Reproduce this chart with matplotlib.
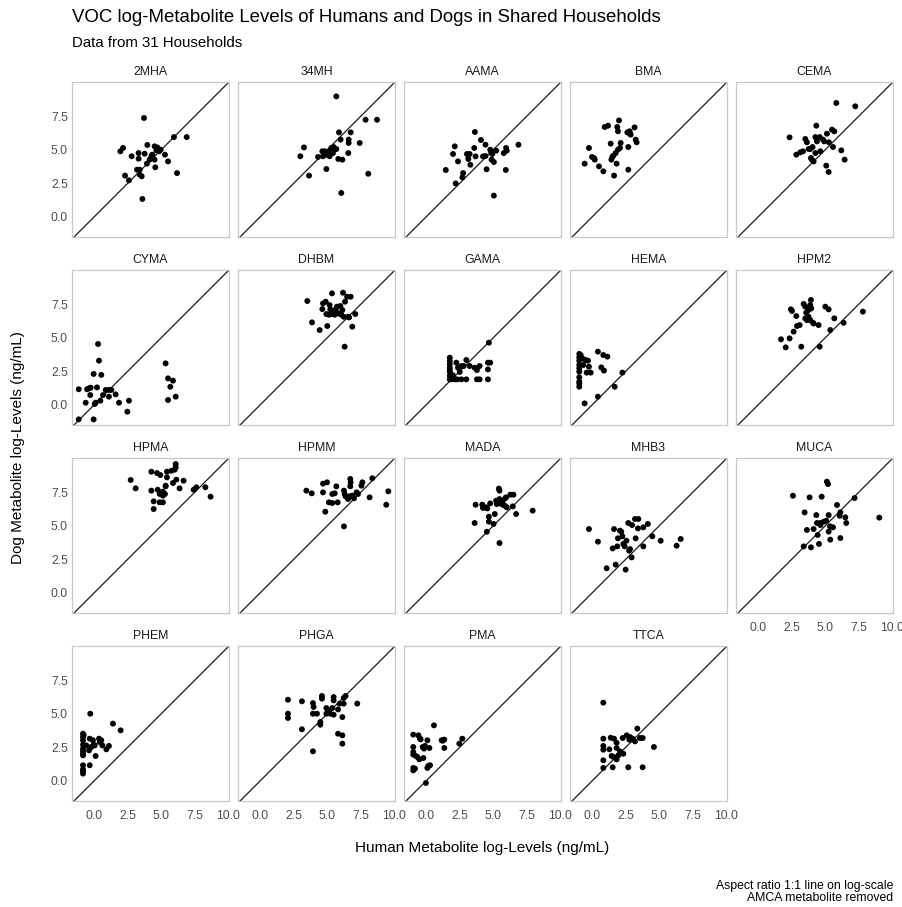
import matplotlib
matplotlib.use("Agg")
import matplotlib.pyplot as plt

plt.rcParams['font.family'] = ['Liberation Sans', 'DejaVu Sans']

# ---------------- data (log ng/mL): human (x) and dog (y) ----------------
h_2MHA = [3.72, 1.96, 2.16, 2.80, 3.32, 3.32, 3.97, 3.77, 4.27, 4.51, 4.71, 4.84, 4.64, 4.96, 4.51, 3.94,
          4.56, 5.28, 5.51, 5.95, 6.90, 6.18, 3.20, 3.40, 2.31, 2.60, 3.40, 3.55, 3.60, 4.34, 4.14]
d_2MHA = [7.37, 4.89, 5.14, 4.52, 4.76, 4.34, 5.36, 4.71, 4.52, 5.26, 5.18, 4.89, 4.96, 5.01, 4.27, 3.97,
          3.70, 4.64, 4.14, 5.95, 5.95, 3.27, 3.52, 3.52, 3.08, 2.73, 3.15, 3.03, 1.34, 4.64, 4.27]

h_34MH = [5.68, 3.27, 3.00, 3.65, 4.32, 4.64, 4.81, 5.13, 5.31, 5.48, 5.56, 5.68, 4.94, 5.18, 5.43, 4.94,
          5.88, 6.00, 6.75, 6.60, 6.60, 6.57, 5.83, 6.13, 7.42, 7.86, 8.71, 8.06, 6.05, 4.69, 5.18]
d_34MH = [8.98, 5.18, 4.52, 3.08, 4.47, 4.89, 4.89, 4.89, 5.14, 5.21, 5.01, 5.06, 4.64, 4.64, 4.76, 3.57,
          6.30, 5.76, 6.30, 5.76, 5.51, 4.76, 4.32, 4.27, 5.51, 7.24, 7.24, 3.22, 1.79, 4.52, 4.52]

h_AAMA = [3.64, 4.09, 4.43, 2.14, 2.01, 2.38, 1.47, 2.76, 2.71, 2.21, 3.05, 3.25, 3.15, 3.30, 3.59, 3.69,
          4.24, 4.43, 4.78, 4.85, 4.93, 5.22, 4.88, 5.05, 4.51, 5.05, 5.96, 6.01, 5.79, 5.94, 6.88]
d_AAMA = [6.33, 5.73, 5.38, 5.26, 4.69, 4.14, 3.50, 3.27, 2.95, 2.50, 4.69, 4.69, 4.32, 3.89, 5.14, 4.51,
          4.51, 4.54, 5.01, 4.84, 4.69, 4.94, 4.27, 4.09, 3.55, 1.59, 5.14, 4.94, 4.76, 3.50, 5.38]

h_BMA = [2.01, 0.94, 1.19, 1.88, 1.93, 2.63, 2.80, 2.88, 3.17, 3.25, 3.32, 2.70, 2.13, 1.39, -0.23, -0.55,
         0.00, 0.20, 0.52, 0.84, 1.64, 1.83, 2.70, 1.44, 1.59, 1.76, 1.93, 2.08, 1.51, 2.83, 0.15]
d_BMA = [7.19, 6.70, 6.80, 6.70, 6.38, 6.30, 6.38, 6.13, 6.67, 5.76, 5.56, 5.21, 5.51, 5.46, 5.14, 3.97,
         4.47, 4.27, 3.77, 3.40, 3.08, 3.97, 3.52, 4.27, 4.57, 4.76, 5.01, 5.14, 4.47, 6.20, 4.39]

h_CEMA = [5.83, 7.24, 2.35, 4.34, 3.52, 3.64, 4.27, 4.84, 4.93, 5.13, 5.51, 5.68, 5.28, 5.58, 2.85, 3.15,
          3.35, 3.77, 4.06, 3.89, 4.27, 4.64, 4.39, 3.94, 4.14, 4.01, 5.08, 5.26, 6.20, 6.45, 4.59]
d_CEMA = [8.49, 8.24, 5.93, 6.80, 5.81, 5.56, 5.95, 5.76, 5.63, 6.20, 6.50, 6.38, 5.56, 5.21, 4.64, 4.81,
          4.89, 5.06, 5.21, 5.06, 4.76, 4.89, 5.63, 4.39, 4.14, 4.27, 3.82, 3.35, 4.96, 4.27, 5.95]

h_CYMA = [0.30, 0.37, -0.03, 0.54, -1.14, -0.52, -0.37, -0.25, 0.22, 0.87, 1.11, 1.29, -0.28, 0.67, 1.11, 1.61,
          -0.62, 0.05, 0.47, 1.86, 2.60, 2.48, -1.14, -0.03, 5.33, 5.51, 5.88, 5.68, 5.51, 6.08, 0.12]
d_CYMA = [4.54, 3.30, 2.31, 2.24, 1.17, 1.17, 1.24, 1.29, 1.31, 1.12, 1.12, 1.12, 0.74, 0.74, 0.62, 0.79,
          0.17, 0.07, 0.32, 0.17, 0.32, -0.50, -1.07, -1.07, 3.10, 1.98, 1.81, 1.36, 0.37, 0.62, 0.17]

h_DHBM = [3.52, 5.36, 6.18, 6.48, 6.75, 4.89, 6.33, 5.18, 4.64, 5.23, 5.63, 5.98, 6.13, 4.94, 5.31, 5.56,
          5.81, 6.05, 6.23, 6.55, 7.09, 3.87, 4.44, 5.01, 6.87, 6.30, 5.43, 5.13, 5.73, 6.63, 4.69]
d_DHBM = [7.74, 8.31, 8.36, 8.06, 8.06, 7.69, 7.69, 7.44, 7.14, 7.12, 7.12, 7.37, 7.07, 6.77, 6.77, 6.72,
          6.82, 6.72, 6.57, 6.57, 6.77, 6.15, 5.58, 5.88, 5.83, 4.34, 6.90, 6.72, 7.32, 6.52, 7.56]

h_GAMA = [1.77, 1.77, 1.77, 1.77, 1.77, 1.77, 1.77, 2.01, 2.26, 2.38, 2.51, 2.31, 2.63, 3.00, 3.00, 2.80,
          3.25, 3.62, 3.79, 3.99, 3.79, 3.99, 4.61, 4.78, 4.61, 4.61, 4.68, 1.89, 2.14, 2.63, 1.77]
d_GAMA = [3.52, 3.27, 3.03, 2.78, 2.46, 2.16, 1.91, 2.21, 3.15, 2.78, 2.46, 1.91, 1.91, 1.91, 3.35, 2.90,
          2.90, 2.78, 2.60, 2.90, 1.91, 1.91, 3.15, 3.15, 2.65, 1.91, 4.64, 1.91, 1.91, 2.90, 2.60]

h_HEMA = [-0.95, -0.95, -0.95, -0.95, -0.95, -0.95, -0.95, -0.72, -0.48, -0.30, -0.23, -0.40, -0.10, 0.44,
          0.84, 1.14, 0.69, 0.89, 2.26, 1.69, 0.44, -0.55, -0.95, -0.95, -0.65, -0.95, -0.85]
d_HEMA = [3.80, 3.55, 3.30, 2.98, 2.06, 1.74, 1.36, 3.48, 3.35, 3.30, 2.85, 2.41, 2.41, 3.97,
          3.72, 3.60, 2.80, 2.56, 2.41, 1.36, 0.62, 0.12, 2.48, 2.73, 2.98, 1.61, 3.72]

h_HPM2 = [3.94, 3.40, 3.52, 2.45, 2.53, 2.85, 3.89, 3.96, 3.59, 3.76, 3.64, 3.89, 4.09, 4.51, 5.01, 5.26,
          5.68, 3.10, 2.90, 2.65, 2.35, 1.71, 2.06, 3.22, 4.59, 5.38, 6.37, 7.81, 3.52, 3.76, 4.14]
d_HPM2 = [7.82, 7.52, 7.32, 7.12, 7.00, 6.62, 7.44, 7.19, 6.87, 6.57, 6.32, 6.32, 6.12, 5.95, 7.32, 7.12,
          6.45, 5.95, 5.88, 5.46, 4.96, 4.89, 4.29, 4.34, 4.34, 5.58, 6.12, 6.95, 6.45, 7.07, 6.07]

h_HPMA = [2.73, 3.10, 6.08, 6.08, 6.00, 4.27, 4.69, 4.94, 5.43, 5.76, 5.43, 6.13, 6.67, 5.88, 5.33, 6.37,
          4.27, 4.74, 5.13, 4.89, 5.28, 5.13, 4.44, 4.89, 5.13, 4.44, 7.42, 7.62, 8.29, 8.68, 5.33]
d_HPMA = [8.41, 7.79, 9.60, 9.35, 9.18, 9.03, 8.93, 8.78, 9.03, 9.10, 8.61, 8.44, 8.36, 8.19, 7.94, 7.79,
          7.62, 7.69, 7.54, 7.37, 7.37, 7.25, 6.82, 6.75, 6.75, 6.25, 7.69, 7.87, 7.87, 7.17, 7.99]

h_HPMM = [3.45, 3.85, 4.69, 4.99, 4.69, 5.68, 5.38, 5.56, 5.13, 5.38, 5.78, 4.86, 6.25, 6.30, 6.37, 6.72,
          6.75, 6.72, 7.62, 7.55, 8.36, 6.67, 6.87, 7.19, 7.29, 7.00, 8.16, 6.25, 9.55, 9.40, 6.55]
d_HPMM = [7.62, 7.42, 8.14, 8.24, 7.49, 7.94, 7.37, 7.42, 6.75, 6.70, 6.75, 6.05, 7.62, 7.37, 7.20, 8.49,
          8.24, 7.94, 8.24, 7.99, 8.54, 7.20, 7.25, 7.49, 7.37, 7.05, 7.12, 4.96, 7.57, 6.57, 7.00]

h_MADA = [5.42, 5.47, 3.69, 4.19, 4.24, 4.56, 4.78, 5.22, 5.27, 5.47, 5.52, 5.72, 5.91, 6.28, 6.51, 5.86,
          6.01, 6.46, 5.12, 4.68, 3.62, 4.68, 5.03, 4.53, 6.71, 7.94, 5.47, 5.72, 5.37, 4.48, 5.96]
d_MADA = [7.77, 7.62, 6.57, 6.57, 6.33, 6.30, 6.67, 6.87, 6.62, 6.99, 6.67, 6.87, 7.07, 7.32, 7.32, 6.50,
          6.38, 6.45, 5.88, 5.68, 5.21, 5.31, 5.14, 4.56, 5.88, 6.13, 3.72, 6.57, 6.79, 6.38, 7.12]

h_MHB3 = [-0.23, 0.44, 1.64, 2.08, 2.18, 1.93, 2.26, 2.56, 2.33, 1.88, 1.54, 2.43, 2.70, 3.20, 3.45, 2.98,
          3.42, 3.82, 4.16, 3.25, 3.82, 4.49, 5.11, 6.30, 6.60, 2.76, 2.95, 1.09, 1.76, 2.50, 2.83]
d_MHB3 = [4.76, 3.82, 4.76, 4.64, 4.56, 4.07, 4.22, 3.89, 3.65, 3.47, 3.32, 3.47, 5.21, 5.51, 5.51, 5.06,
          4.81, 4.89, 5.14, 4.07, 3.47, 4.22, 3.89, 3.52, 4.02, 3.15, 2.65, 1.84, 2.11, 1.74, 3.27]

h_MUCA = [2.60, 3.84, 4.74, 5.13, 5.21, 7.19, 5.88, 3.47, 4.34, 5.26, 6.13, 6.08, 6.50, 6.57, 4.39, 4.64,
          4.89, 5.08, 4.64, 5.36, 5.58, 3.64, 4.14, 5.26, 4.44, 5.38, 6.13, 3.40, 3.94, 4.54, 9.03]
d_MUCA = [7.24, 7.12, 7.17, 8.29, 8.11, 7.07, 6.55, 6.00, 5.80, 5.80, 6.00, 5.75, 5.63, 5.21, 5.21, 5.21,
          5.31, 5.38, 5.06, 4.96, 4.89, 4.69, 4.76, 4.57, 4.32, 3.97, 4.09, 3.47, 3.40, 3.65, 5.61]

h_PHEM = [-0.82, -0.82, -0.82, -0.82, -0.82, -0.82, -0.82, -0.82, -0.82, -0.82, -0.28, -0.32, -0.37, -0.32,
          -0.08, -0.03, 0.12, 0.37, 0.54, 0.62, 0.92, 1.11, 1.41, 1.98, -0.20, 0.05, -0.82, -0.82, 0.42, -0.77, -0.57]
d_PHEM = [3.52, 3.27, 3.03, 2.70, 2.41, 2.03, 1.91, 1.17, 0.72, 0.55, 5.01, 3.15, 2.28, 1.17,
          3.03, 2.70, 1.86, 3.15, 3.03, 2.65, 2.36, 2.61, 4.27, 3.77, 2.53, 2.65, 2.21, 0.87, 2.90, 3.40, 2.65]

h_PHGA = [2.08, 2.08, 2.08, 3.12, 3.12, 3.94, 3.99, 3.94, 4.24, 4.49, 4.49, 3.94, 4.61, 4.61, 4.94, 5.06,
          4.94, 5.23, 5.38, 5.48, 5.48, 5.81, 5.48, 5.93, 6.13, 6.23, 6.37, 6.23, 5.81, 6.13, 6.13, 7.24]
d_PHGA = [6.05, 5.01, 4.69, 5.93, 3.85, 5.80, 5.51, 5.01, 5.01, 4.39, 4.19, 2.21, 6.33, 6.13, 5.43, 5.26,
          5.01, 5.01, 5.43, 6.25, 6.00, 5.33, 4.94, 5.76, 4.76, 6.18, 6.33, 5.76, 3.52, 3.40, 2.78, 5.76]

h_PMA = [-0.95, -0.57, -0.40, 0.10, -0.95, -0.25, -0.08, 0.25, -0.95, -0.65, -0.50, -0.95, -0.95, 0.10, 0.30,
         -0.01, 0.59, 1.16, 1.36, 1.36, 2.48, 2.70, -0.95, 0.17, -0.20, -0.82, -0.45, -0.15, -0.75, 1.24]
d_PMA = [3.45, 3.40, 3.10, 3.03, 2.53, 2.53, 2.61, 2.46, 1.96, 1.79, 1.61, 0.97, 0.79, 0.97, 1.17,
         -0.15, 4.14, 3.03, 3.08, 2.46, 2.78, 3.15, 2.16, 1.12, 1.71, 0.92, 3.15, 2.41, 1.86, 3.00]

h_TTCA = [0.84, 0.84, 0.84, 0.84, 0.84, 0.84, 1.39, 1.64, 1.83, 1.83, 1.29, 1.46, 1.59, 1.83, 1.54, 2.28,
          2.33, 2.58, 2.83, 2.88, 3.03, 3.20, 3.37, 3.57, 3.77, 2.70, 3.77, 4.61, 1.96, 2.78, 2.08]
d_TTCA = [5.83, 3.15, 2.61, 2.33, 1.54, 0.97, 3.22, 3.15, 2.85, 2.46, 2.36, 1.86, 1.79, 1.61, 1.02, 3.20,
          2.03, 3.40, 3.27, 3.08, 3.15, 2.95, 3.90, 3.20, 3.20, 1.02, 1.02, 2.53, 1.91, 3.08, 2.20]

metabolites = ["2MHA", "34MH", "AAMA", "BMA", "CEMA", "CYMA", "DHBM", "GAMA", "HEMA", "HPM2",
               "HPMA", "HPMM", "MADA", "MHB3", "MUCA", "PHEM", "PHGA", "PMA", "TTCA"]
human = [h_2MHA, h_34MH, h_AAMA, h_BMA, h_CEMA, h_CYMA, h_DHBM, h_GAMA, h_HEMA, h_HPM2,
         h_HPMA, h_HPMM, h_MADA, h_MHB3, h_MUCA, h_PHEM, h_PHGA, h_PMA, h_TTCA]
dog = [d_2MHA, d_34MH, d_AAMA, d_BMA, d_CEMA, d_CYMA, d_DHBM, d_GAMA, d_HEMA, d_HPM2,
       d_HPMA, d_HPMM, d_MADA, d_MHB3, d_MUCA, d_PHEM, d_PHGA, d_PMA, d_TTCA]

x_ticks = [0.0, 2.5, 5.0, 7.5, 10.0]
y_ticks = [0.0, 2.5, 5.0, 7.5]
tick_labels_x = ["0.0", "2.5", "5.0", "7.5", "10.0"]
tick_labels_y = ["0.0", "2.5", "5.0", "7.5"]

title = "VOC log-Metabolite Levels of Humans and Dogs in Shared Households"
subtitle = "Data from 31 Households"
xlabel = "Human Metabolite log-Levels (ng/mL)"
ylabel = "Dog Metabolite log-Levels (ng/mL)"
caption = "Aspect ratio 1:1 line on log-scale\nAMCA metabolite removed"

# ---------------- layout ----------------
W, H = 903, 907
fig = plt.figure(figsize=(W / 100, H / 100), dpi=100)
fig.patch.set_facecolor("white")

ncol = 5
pw, ph = 157, 155
left0, top0 = 72, 82
dx, dy = 166, 188
xlim = (-1.64, 10.05)
ylim = (-1.49, 10.05)
n = len(metabolites)

for i, name in enumerate(metabolites):
    r, c = divmod(i, ncol)
    L = left0 + c * dx
    T = top0 + r * dy
    ax = fig.add_axes([L / W, 1 - (T + ph) / H, pw / W, ph / H])
    ax.set_xlim(*xlim)
    ax.set_ylim(*ylim)
    ax.plot([-5, 15], [-5, 15], color="#1a1a1a", lw=0.9, zorder=1)
    ax.scatter(human[i], dog[i], s=18, color="black", edgecolors="none", zorder=2)
    for sp in ax.spines.values():
        sp.set_color("#c8c8c8")
        sp.set_linewidth(0.9)
    ax.set_xticks(x_ticks)
    ax.set_yticks(y_ticks)
    ax.tick_params(axis="x", length=0, labelsize=8.8, labelcolor="#4d4d4d", pad=6.5)
    ax.tick_params(axis="y", length=0, labelsize=8.8, labelcolor="#4d4d4d", pad=3)
    # bottom-most panel in its column shows x tick labels
    if i + ncol >= n:
        ax.set_xticklabels(tick_labels_x)
    else:
        ax.set_xticklabels([])
    if c == 0:
        ax.set_yticklabels(tick_labels_y)
    else:
        ax.set_yticklabels([])
    ax.set_title(name, fontsize=8.8, color="#1a1a1a", pad=5)

fig.text(72 / W, 1 - 18 / H, title, fontsize=13.4, color="black", va="center", ha="left")
fig.text(72 / W, 1 - 43 / H, subtitle, fontsize=10.8, color="black", va="center", ha="left")
fig.text(482 / W, 1 - 848 / H, xlabel, fontsize=11, color="black", va="center", ha="center")
fig.text(18 / W, 1 - 448 / H, ylabel, fontsize=11, color="black", va="center", ha="center", rotation=90)
fig.text(893 / W, 1 - 892 / H, caption, fontsize=8.8, color="black", va="center", ha="right",
         multialignment="right", linespacing=1.05)

fig.savefig("out.png", dpi=100, facecolor="white")
